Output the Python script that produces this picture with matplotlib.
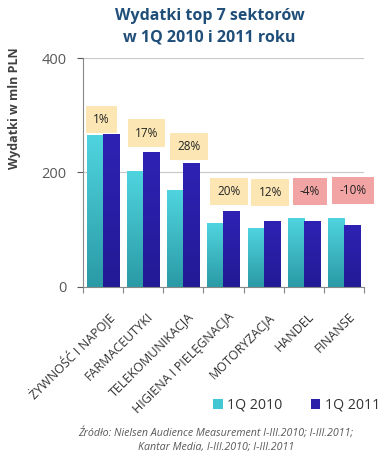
import numpy as np
import matplotlib
matplotlib.use("Agg")
import matplotlib.pyplot as plt
from matplotlib.colors import LinearSegmentedColormap

plt.rcParams['font.family'] = ['Open Sans', 'DejaVu Sans']

sectors = ["ŻYWNOŚĆ I NAPOJE", "FARMACEUTYKI", "TELEKOMUNIKACJA",
           "HIGIENA I PIELĘGNACJA", "MOTORYZACJA", "HANDEL", "FINANSE"]
q2010 = [265, 203, 169, 112, 103, 120, 120]
q2011 = [268, 236, 217, 133, 115, 115, 108]
changes = ["1%", "17%", "28%", "20%", "12%", "-4%", "-10%"]

# where the change boxes sit (layout only)
box_dx = [-0.03, 0.09, 0.14, 0.14, 0.16, 0.15, 0.22]
box_y = [292, 269, 246, 166, 165, 166, 168]

fig = plt.figure(figsize=(3.9, 4.58), dpi=100)
ax = fig.add_axes([0.212, 0.374, 0.722, 0.499])

x = np.arange(len(sectors))
w = 0.4
b1 = ax.bar(x - w / 2, q2010, w, color="#43c7d3", zorder=2)
b2 = ax.bar(x + w / 2, q2011, w, color="#2a1fa8", zorder=2)

# gradient fill for bars
cyan = LinearSegmentedColormap.from_list("c", ["#2a9aa6", "#4fd4df"])
navy = LinearSegmentedColormap.from_list("n", ["#221a95", "#2e22b4"])
grad = np.linspace(0, 1, 100).reshape(-1, 1)
for bars, cm in ((b1, cyan), (b2, navy)):
    for bar in bars:
        bx, by = bar.get_x(), bar.get_y()
        bw, bh = bar.get_width(), bar.get_height()
        im = ax.imshow(grad, cmap=cm, origin="lower", aspect="auto",
                       extent=[bx, bx + bw, by, by + bh], zorder=2)
        im.set_clip_path(bar)

for i, t in enumerate(changes):
    fc = "#f2a3a3" if t.startswith("-") else "#fbe6b4"
    ax.text(i + box_dx[i], box_y[i], t, ha="center", va="center", fontsize=8.5,
            color="#222222", zorder=3,
            bbox=dict(boxstyle="square,pad=0.6", fc=fc, ec="none"))

ax.set_xlim(-0.5, len(sectors) - 0.5)
ax.set_ylim(0, 400)
ax.set_yticks([0, 200, 400])
ax.tick_params(axis="y", labelsize=10.5, colors="#595959", length=4.5,
               width=0.8, pad=7)
ax.grid(axis="y", color="#c8c8c8", linewidth=0.8, zorder=0)
ax.set_axisbelow(True)

ax.set_xticks(np.arange(len(sectors) + 1) - 0.5)
ax.set_xticklabels([])
ax.tick_params(axis="x", length=4, width=0.8, colors="#888888")
for i, s in enumerate(sectors):
    ax.annotate(s, xy=(i + 0.1, 0), xycoords=("data", "axes fraction"),
                xytext=(0, -17), textcoords="offset points",
                rotation=45, ha="right", va="top", rotation_mode="anchor",
                fontsize=9, color="#333333")

for sp in ("top", "right"):
    ax.spines[sp].set_visible(False)
for sp in ("left", "bottom"):
    ax.spines[sp].set_color("#888888")
    ax.spines[sp].set_linewidth(0.8)

fig.text(0.036, 0.764, "Wydatki w mln PLN", rotation=90, ha="center",
         va="center", fontsize=9, fontweight="bold", color="#404040")

fig.text(0.537, 0.942, "Wydatki top 7 sektorów\nw 1Q 2010 i 2011 roku",
         ha="center", va="center", fontsize=11.5, fontweight="bold",
         color="#1f4e79", linespacing=1.5)

leg = fig.legend([b1, b2], ["1Q 2010", "1Q 2011"], loc="center",
                 bbox_to_anchor=(0.76, 0.115), ncol=2, frameon=False,
                 fontsize=10.2, handlelength=0.7, handleheight=0.7,
                 handletextpad=0.3, columnspacing=2.0)
for t in leg.get_texts():
    t.set_color("#333333")

fig.text(0.553, 0.04, "Źródło: Nielsen Audience Measurement I-III.2010; I-III.2011;\n"
         "Kantar Media, I-III.2010; I-III.2011",
         ha="center", va="center", fontsize=7.7, style="italic",
         color="#595959", linespacing=1.35)

fig.savefig("out.png", dpi=100)
